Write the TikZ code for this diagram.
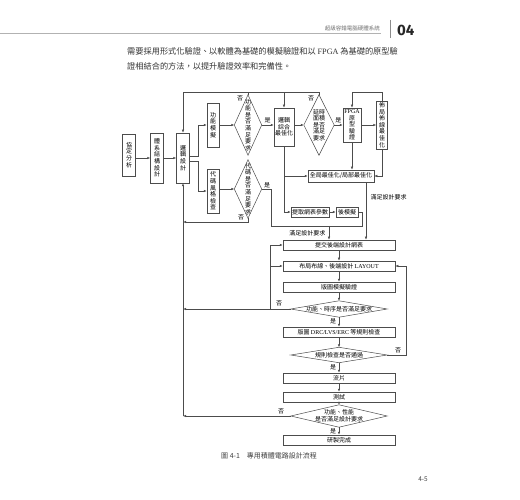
\documentclass[tikz,border=0pt]{standalone}
\usepackage{fontspec}
\setmainfont{Liberation Serif}
\newfontfamily\cjk{Noto Sans CJK TC}
\newfontfamily\numf{Fira Sans}
\usetikzlibrary{arrows.meta}
\newcommand\dgfont{\cjk\fontsize{6}{6.6}\selectfont}
\begin{document}
\begin{tikzpicture}[x=1pt,y=-1pt,
  ln/.style={draw=black!70, line width=0.5pt},
  arr/.style={ln, -{Latex[length=3pt,width=2.4pt]}},
  bx/.style={draw=black!70, line width=0.5pt, fill=white, inner sep=0pt, align=center, font=\dgfont},
  dia/.style={inner sep=0pt, align=center, font=\dgfont},
  chain/.style={bx, minimum width=112pt, minimum height=10pt},
  lab/.style={font=\dgfont, inner sep=0.5pt},
]
\useasboundingbox (0,0) rectangle (520,500);
\fill[white] (0,0) rectangle (520,500);

% header
\draw[black!30, line width=0.6pt] (0,33) -- (381,33);
\node[anchor=south east, font=\cjk\fontsize{5.5}{6}\selectfont, text=black!55, inner sep=0pt] (hd) at (380,31) {超級容錯電腦硬體系統};
\draw[black!45, line width=0.8pt] (390,20) -- (390,38);
\node[anchor=west, font=\numf\bfseries\fontsize{15}{15}\selectfont, text=black!85, inner sep=0pt] (ch) at (397,30) {04};

% paragraph
\node[anchor=west, font=\cjk\fontsize{8.2}{10}\selectfont, text=black!80, inner sep=0pt] (p1) at (127,51) {需要採用形式化驗證、以軟體為基礎的模擬驗證和以 {\rmfamily FPGA} 為基礎的原型驗};
\node[anchor=west, font=\cjk\fontsize{8.2}{10}\selectfont, text=black!80, inner sep=0pt] (p2) at (127,66) {證相結合的方法，以提升驗證效率和完備性。};

\coordinate (top) at (0,92);

% upper nodes
\node[bx, minimum width=13pt, minimum height=42pt] (xd) at (129,155) {協\\定\\分\\析};
\node[bx, minimum width=13pt, minimum height=50pt] (tx) at (157,158) {體\\系\\結\\構\\設\\計};
\node[bx, minimum width=13pt, minimum height=50pt] (lj) at (183,158) {邏\\輯\\設\\計};
\node[bx, minimum width=12pt, minimum height=44pt] (gn) at (213,125) {功\\能\\模\\擬};
\node[bx, minimum width=12pt, minimum height=44pt] (dc) at (213,191) {代\\碼\\風\\格\\檢\\查};
\node[dia, minimum width=27pt, minimum height=60pt] (d1) at (248,125) {功\\能\\是\\否\\滿\\足\\要\\求};
\node[dia, minimum width=27pt, minimum height=58pt] (d3) at (248,189) {代\\碼\\是\\否\\滿\\足\\要\\求};
\node[bx, minimum width=20pt, minimum height=38pt] (lz) at (284,127) {邏輯\\綜合\\最佳化};
\node[dia, minimum width=30pt, minimum height=60pt] (d2) at (319,125) {延時\\面積\\是否\\滿足\\要求};
\node[bx, minimum width=18pt, minimum height=34pt] (fp) at (352,125) {{\rmfamily FPGA}\\原\\型\\驗\\證};
\node[bx, minimum width=11pt, minimum height=48pt] (bj) at (382,125) {佈\\局\\佈\\線\\最\\佳\\化};
\node[bx, minimum width=66pt, minimum height=12pt] (qj) at (341,176) {全局最佳化/局部最佳化};
\node[bx, minimum width=38pt, minimum height=10pt] (tq) at (310,212) {提取網表參數};
\node[bx, minimum width=22pt, minimum height=10pt] (hm) at (347,212) {後模擬};

% lower chain
\node[chain] (tj) at (339,245) {提交後端設計網表};
\node[chain] (bx) at (339,266) {布局布線、後端設計 {\rmfamily LAYOUT}};
\node[chain] (bm) at (339,287) {版圖模擬驗證};
\node[dia, minimum width=96pt, minimum height=16pt] (d4) at (339,309) {功能、時序是否滿足要求};
\node[chain] (dr) at (339,332) {版圖 {\rmfamily DRC/LVS/ERC} 等規則檢查};
\node[dia, minimum width=96pt, minimum height=15pt] (d5) at (339,355) {規則檢查是否通過};
\node[chain] (lp) at (339,378) {流片};
\node[chain] (cs) at (339,397) {測試};
\node[dia, minimum width=96pt, minimum height=22pt] (d6) at (339,416) {功能、性能\\是否滿足設計要求};
\node[chain] (yz) at (339,440) {研製完成};

\foreach \d in {d1,d2,d3,d4,d5,d6}
  \draw[ln] (\d.north) -- (\d.east) -- (\d.south) -- (\d.west) -- cycle;

% upper connectors
\draw[arr] (xd.east |- tx.west) -- (tx.west);
\draw[arr] (tx) -- (lj);
\draw[arr] ([yshift=2pt]lj.east) -- ++(8,0) |- (gn.west);
\draw[arr] ([yshift=-3pt]lj.east) -- ++(8,0) |- (dc.west);
\draw[arr] (gn) -- (d1.west);
\draw[arr] (dc.east |- d3.west) -- (d3.west);
\draw[arr] (d1.east) -- (d1.east -| lz.west) node[lab, midway, above=1pt] {是};
\draw[arr] (lz.east |- d2.west) -- (d2.west);
\draw[arr] (d2.east) -- (d2.east -| fp.west) node[lab, midway, above=1pt] {是};
\draw[arr] (fp) -- (bj);
\draw[arr] (bj.north) -- (bj.north |- top) -| (fp.north);
\draw[arr] (d1.north) -- (d1.north |- top) -| (lj.north);
\draw[arr] (d2.north) -- (d2.north |- top) -| (lz.north);
\draw[ln] (d1.north |- top) -- (lz.north |- top);
\node[lab] (n1) at (240,98) {否};
\node[lab] (n2) at (311,98) {否};
\draw[arr] (fp.south) -- (fp.south |- qj.north);
\draw[arr] (bj.south) |- (qj.east);
\draw[arr] (lz.south) |- (tq.west);
\draw[arr] (lz.south |- qj.west) -- (qj.west);
\draw[arr] (tq) -- (hm);
\coordinate (jn) at (329,226);
\draw[ln] (hm.east) -- ++(4,0) |- (jn);
\draw[ln] (d3.east) -- ++(10,0) |- (jn);
\node[lab] (n3) at (267,185) {是};
\draw[arr] (jn) -- (jn |- tj.north);
\node[lab, anchor=east] (m1) at (326,233) {滿足設計要求};
\coordinate (rq) at (366,0);
\draw[arr] (qj.south -| rq) -- (tj.north -| rq);
\node[lab, anchor=west] (m2) at (370,197) {滿足設計要求};
\coordinate (y3) at (0,222);
\draw[arr] (d3.south) -- (d3.south |- y3) -- (lj.south |- y3);
\node[lab] (n4) at (241,217) {否};

% main left return line
\draw[arr] (lj.south |- d6.west) -- (lj.south);

% lower connectors
\draw[arr] (tj) -- (bx);
\draw[arr] (bx) -- (bm);
\draw[arr] (bm) -- (d4.north);
\draw[arr] (d4.south) -- (dr);
\draw[arr] (dr) -- (d5.north);
\draw[arr] (d5.south) -- (lp);
\draw[arr] (lp) -- (cs);
\draw[arr] (cs) -- (d6.north);
\draw[arr] (d6.south) -- (yz);
\node[lab] (s1) at (333,321) {是};
\node[lab] (s2) at (333,367) {是};
\node[lab] (s3) at (333,431) {是};

\draw[arr] (d4.west) -- (d4.west -| lj.south);
\node[lab] (n5) at (279,303) {否};
\coordinate (bv) at (270,0);
\draw[ln] (d4.west -| bv) -- (tj.west -| bv);
\draw[arr] (tj.west -| bv) -- (tj.west);
\draw[arr] (bx.west -| bv) -- (bx.west);
\draw[arr] (d5.east) -- ++(19,0) |- (bx.east);
\node[lab] (n6) at (398,350) {否};
\draw[arr] (d6.west) -- (d6.west -| lj.south);
\node[lab] (n7) at (281,411) {否};

% caption and page number
\node[anchor=west, font=\cjk\fontsize{7}{8}\selectfont, text=black!75, inner sep=0pt] (cap) at (221,456) {圖 4-1\quad 專用積體電路設計流程};
\node[font=\cjk\fontsize{6.5}{7}\selectfont, text=black!75, inner sep=0pt] (pg) at (423,479) {4-5};
\end{tikzpicture}
\end{document}
